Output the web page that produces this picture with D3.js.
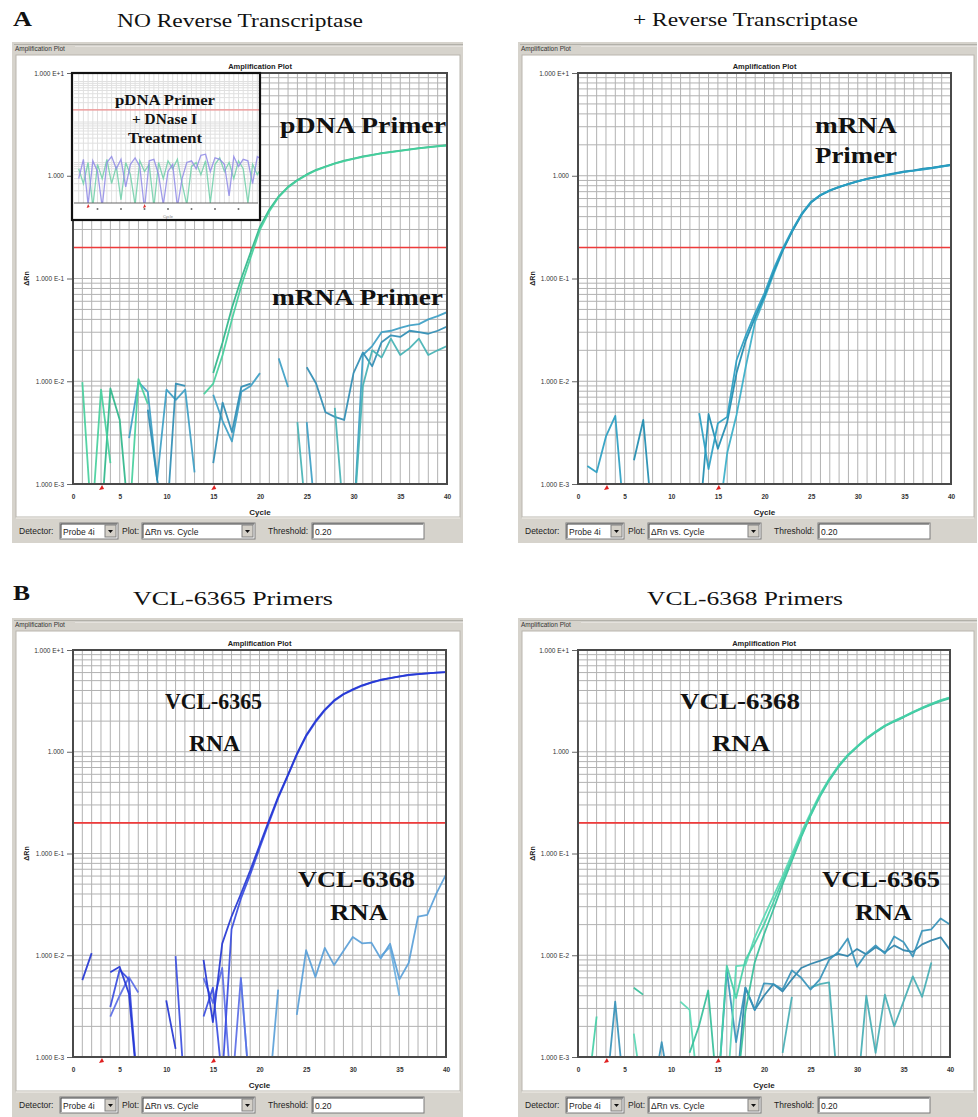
<!DOCTYPE html>
<html>
<head>
<meta charset="utf-8">
<script src="https://cdn.jsdelivr.net/npm/d3@7"></script>
<style>
  body { margin: 0; background: #fff; }
  svg text { font-family: Arial, "Liberation Sans", sans-serif; }
  svg text.serif { font-family: "Liberation Serif", "Times New Roman", serif; }
</style>
</head>
<body>
<svg id="fig" width="978" height="1117"></svg>
<script>
// cycle numbers used by every run
const CYCLES = d3.range(1, 41);
const X_TICKS = [0, 5, 10, 15, 20, 25, 30, 35, 40];
const Y_TICKS = [10, 1, 0.1, 0.01, 0.001];
const Y_TICK_LABELS = ["1.000 E+1", "1.000", "1.000 E-1", "1.000 E-2", "1.000 E-3"];
const THRESHOLD = 0.20;
const BASELINE_MARKS = [3, 15];

// ---- A, NO Reverse Transcriptase (delta Rn per cycle, null = not plotted) ----
const pdnaNoRT1 = [
  0.0098, 0.0004, 0.0083, 0.0016, null, 0.0004, 0.0105, 0.0060, null, null,
  null, null, null, 0.0075, 0.0095, 0.018, 0.040, 0.085, 0.160, 0.300,
  0.450, 0.620, 0.770, 0.900, 1.02, 1.13, 1.22, 1.31, 1.39, 1.46,
  1.53, 1.59, 1.65, 1.70, 1.75, 1.80, 1.85, 1.89, 1.93, 1.97
];
const pdnaNoRT2 = [
  null, null, 0.0004, 0.0085, 0.0042, 0.0004, null, null, null, null,
  null, null, null, null, 0.0120, 0.024, 0.052, 0.100, 0.180, 0.320,
  0.470, 0.630, 0.780, 0.910, 1.03, 1.14, 1.23, 1.32, 1.40, 1.47,
  1.54, 1.60, 1.66, 1.71, 1.76, 1.81, 1.86, 1.90, 1.94, 1.98
];
const mrnaNoRT1 = [
  null, null, null, null, null, 0.0028, 0.0098, 0.0079, 0.0011, 0.0083,
  0.0066, 0.0083, 0.0013, null, 0.0074, 0.0041, 0.0026, 0.0079, 0.0090, 0.0120,
  null, 0.0167, 0.0088, null, 0.0040, 0.0004, null, null, null, 0.0004,
  0.0180, 0.0220, 0.0300, 0.0310, 0.0330, 0.0350, 0.0360, 0.0400, 0.0430, 0.0470
];
const mrnaNoRT2 = [
  null, null, null, null, null, null, null, 0.0053, 0.0011, 0.0004,
  0.0095, 0.0090, null, null, 0.0016, 0.0062, 0.0032, 0.0088, 0.0095, null,
  null, null, null, null, 0.0137, 0.0095, 0.0050, 0.0045, 0.0042, 0.0120,
  0.0190, 0.0140, 0.0240, 0.0280, 0.0270, 0.0310, 0.0300, 0.0290, 0.0310, 0.0340
];
const mrnaNoRT3 = [
  null, null, null, null, null, null, null, null, null, null,
  null, null, null, null, null, null, null, null, null, null,
  null, null, null, 0.0040, 0.0004, null, null, 0.0055, 0.0004, 0.0004,
  0.0090, 0.0200, 0.0170, 0.0260, 0.0180, 0.0210, 0.0260, 0.0180, 0.0200, 0.0220
];
// inset: pDNA primer + DNase I treatment
const insetViolet = [
  0.0040, 0.0120, 0.0009, 0.0110, 0.0060, 0.0008, 0.0100, 0.0140, 0.0070, 0.0120,
  0.0025, 0.0090, 0.0130, 0.0080, 0.0007, 0.0110, 0.0120, 0.0050, 0.0009, 0.0060,
  0.0090, 0.0008, 0.0040, 0.0100, 0.0110, 0.0070, 0.0150, 0.0160, 0.0060, 0.0130,
  0.0120, 0.0090, 0.0015, 0.0140, 0.0080, 0.0120, 0.0110, 0.0030, 0.0140, 0.0120
];
const insetGreen = [
  0.0070, 0.0030, 0.0100, 0.0008, 0.0090, 0.0040, 0.0120, 0.0030, 0.0080, 0.0012,
  0.0100, 0.0050, 0.0009, 0.0110, 0.0060, 0.0090, 0.0008, 0.0100, 0.0040, 0.0110,
  0.0070, 0.0120, 0.0030, 0.0009, 0.0080, 0.0100, 0.0050, 0.0110, 0.0010, 0.0090,
  0.0130, 0.0060, 0.0100, 0.0040, 0.0110, 0.0070, 0.0010, 0.0090, 0.0050, 0.0080
];

// ---- A, + Reverse Transcriptase ----
const mrnaRT1 = [
  0.0015, 0.0013, 0.0029, 0.0046, 0.0004, null, null, null, null, null,
  null, null, 0.0049, 0.0014, 0.0039, 0.0045, 0.0160, 0.0280, 0.0460, 0.0720,
  0.125, 0.200, 0.300, 0.430, 0.560, 0.650, 0.720, 0.780, 0.830, 0.880,
  0.930, 0.970, 1.01, 1.05, 1.09, 1.12, 1.15, 1.19, 1.23, 1.27
];
const mrnaRT2 = [
  null, null, null, null, null, 0.0017, 0.0042, 0.0004, null, null,
  null, null, 0.0004, 0.0048, 0.0022, 0.0040, 0.0120, 0.0250, 0.0420, 0.0680,
  0.118, 0.192, 0.290, 0.420, 0.550, 0.645, 0.715, 0.775, 0.835, 0.885,
  0.930, 0.975, 1.02, 1.06, 1.10, 1.13, 1.17, 1.20, 1.24, 1.28
];
const mrnaRT3 = [
  null, null, null, null, null, null, null, null, null, null,
  null, null, null, null, 0.0004, 0.0020, 0.0047, 0.0140, 0.0380, 0.0640,
  0.112, 0.190, 0.295, 0.425, 0.555, 0.650, 0.720, 0.780, 0.830, 0.880,
  0.930, 0.970, 1.01, 1.05, 1.09, 1.12, 1.16, 1.19, 1.23, 1.27
];

// ---- B, VCL-6365 Primers ----
const rna6365Blue1 = [
  0.0057, 0.0105, null, 0.0068, 0.0077, 0.0042, 0.0004, null, null, 0.0036,
  0.0012, null, null, 0.0090, 0.0022, 0.0130, 0.0240, 0.0400, 0.0680, 0.120,
  0.210, 0.360, 0.580, 0.950, 1.45, 2.00, 2.60, 3.20, 3.70, 4.10,
  4.50, 4.80, 5.10, 5.30, 5.50, 5.70, 5.80, 5.90, 6.00, 6.05
];
const rna6365Blue2 = [
  null, null, null, 0.0031, 0.0072, 0.0058, 0.0004, null, null, null,
  0.0098, 0.0004, null, 0.0025, 0.0048, 0.0006, 0.0180, 0.0360, 0.0620, 0.112,
  0.200, 0.350, 0.570, 0.930, 1.42, 1.95, 2.55, 3.15, 3.65, 4.05,
  4.45, 4.78, 5.07, 5.28, 5.48, 5.68, 5.80, 5.90, 5.98, 6.05
];
const rna6365Blue3 = [
  null, null, null, 0.0025, 0.0040, 0.0061, 0.0043, null, null, null,
  null, null, null, 0.0060, 0.0034, 0.0075, 0.0004, 0.0060, 0.0004, null,
  null, null, null, null, null, null, null, null, null, null,
  null, null, null, null, null, null, null, null, null, null
];
const rna6368Lt1 = [
  null, null, null, null, null, null, null, null, null, null,
  null, null, null, null, null, null, null, null, null, null,
  0.0004, 0.0046, null, 0.0026, 0.0112, 0.0061, 0.0118, 0.0080, 0.0110, 0.0151,
  0.0131, 0.0133, 0.0093, 0.0130, 0.0058, 0.0084, 0.0240, 0.0250, 0.0410, 0.0620
];
const rna6368Lt2 = [
  null, null, null, null, null, null, null, null, null, null,
  null, null, null, null, null, null, null, 0.0060, 0.0004, null,
  null, null, null, null, null, null, null, null, null, null,
  null, null, 0.0098, 0.0120, 0.0040, null, null, null, null, null
];

// ---- B, VCL-6368 Primers ----
const rna6368Grn1 = [
  0.0004, 0.0025, null, null, null, null, null, null, null, null,
  null, null, null, null, 0.0004, 0.0079, 0.0038, 0.0090, 0.0130, 0.0200,
  0.0330, 0.0550, 0.0900, 0.150, 0.240, 0.370, 0.530, 0.720, 0.920, 1.12,
  1.35, 1.57, 1.80, 2.00, 2.20, 2.45, 2.70, 2.95, 3.20, 3.40
];
const rna6368Grn2 = [
  null, null, null, null, null, 0.0048, 0.0041, null, null, null,
  null, 0.0011, 0.0020, 0.0045, 0.0004, null, 0.0004, 0.0028, 0.0085, 0.0160,
  0.0280, 0.0500, 0.0850, 0.145, 0.235, 0.360, 0.520, 0.710, 0.910, 1.11,
  1.33, 1.55, 1.78, 1.98, 2.18, 2.42, 2.66, 2.90, 3.15, 3.35
];
const rna6368Grn3 = [
  null, null, null, null, null, 0.0017, 0.0004, null, null, null,
  0.0035, 0.0029, 0.0004, null, null, 0.0004, 0.0078, 0.0080, 0.0150, 0.0240,
  0.0380, 0.0600, 0.0980, 0.160, 0.250, 0.380, 0.540, 0.730, 0.930, 1.13,
  1.36, 1.58, 1.81, 2.01, 2.22, 2.46, 2.71, 2.96, 3.21, 3.42
];
const rna6365Teal1 = [
  null, null, 0.0004, 0.0035, 0.0004, null, null, 0.0004, 0.0014, 0.0004,
  null, null, null, null, 0.0004, 0.0071, 0.0014, 0.0048, 0.0029, 0.0053,
  0.0052, 0.0046, 0.0071, 0.0060, 0.0046, 0.0058, 0.0090, 0.0108, 0.0146, 0.0077,
  0.0104, 0.0125, 0.0104, 0.0153, 0.0135, 0.0097, 0.0174, 0.0180, 0.0230, 0.0200
];
const rna6365Teal2 = [
  null, null, null, null, null, null, null, null, null, null,
  null, null, null, null, null, null, 0.0004, 0.0048, 0.0029, 0.0040,
  0.0052, 0.0044, 0.0058, 0.0075, 0.0082, 0.0088, 0.0095, 0.0103, 0.0098, 0.0115,
  0.0102, 0.0120, 0.0107, 0.0125, 0.0112, 0.0108, 0.0128, 0.0140, 0.0150, 0.0113
];
const rna6365Teal3 = [
  null, null, null, null, null, null, null, null, null, null,
  null, null, null, null, null, null, null, null, null, null,
  null, 0.0011, 0.0039, null, 0.0048, 0.0052, 0.0054, 0.0004, null, 0.0004,
  0.0040, 0.0011, 0.0041, 0.0020, 0.0035, 0.0062, 0.0039, 0.0085, null, null
];

// panel layout, built from the arrays above
const PANELS = [
  {
    win: {x: 12, y: 42, w: 451, h: 501}, plot: {x0: 73, x1: 447, y0: 73, y1: 484},
    series: [
      {v: mrnaNoRT1, c: "#3c9ec4"}, {v: mrnaNoRT2, c: "#2f8db4"}, {v: mrnaNoRT3, c: "#45b2b4"},
      {v: pdnaNoRT2, c: "#2fb68a"}, {v: pdnaNoRT1, c: "#45cf9c"}
    ],
    labels: [
      {t: "pDNA Primer", x1: 280, x2: 446, b: 133, s: 23},
      {t: "mRNA Primer", x1: 272, x2: 443, b: 305, s: 23}
    ],
    inset: true
  },
  {
    win: {x: 518, y: 42, w: 459, h: 501}, plot: {x0: 578, x1: 951, y0: 73, y1: 484},
    series: [
      {v: mrnaRT3, c: "#38aec8"}, {v: mrnaRT2, c: "#1f8cb0"}, {v: mrnaRT1, c: "#2a9ec2"}
    ],
    labels: [
      {t: "mRNA", x1: 815, x2: 897, b: 133, s: 23},
      {t: "Primer", x1: 815, x2: 897, b: 163, s: 23}
    ]
  },
  {
    win: {x: 12, y: 618, w: 451, h: 499}, plot: {x0: 73, x1: 446, y0: 650, y1: 1057},
    series: [
      {v: rna6368Lt2, c: "#6cb0e0"}, {v: rna6368Lt1, c: "#5a9fd8"},
      {v: rna6365Blue3, c: "#5a6ce6"}, {v: rna6365Blue2, c: "#3a4de0"}, {v: rna6365Blue1, c: "#2436d4"}
    ],
    labels: [
      {t: "VCL-6365", x1: 165, x2: 262, b: 709, s: 23},
      {t: "RNA", x1: 189, x2: 240, b: 751, s: 23},
      {t: "VCL-6368", x1: 298, x2: 415, b: 887, s: 23},
      {t: "RNA", x1: 330, x2: 388, b: 920, s: 23}
    ]
  },
  {
    win: {x: 518, y: 618, w: 459, h: 499}, plot: {x0: 578, x1: 950, y0: 650, y1: 1057},
    series: [
      {v: rna6365Teal3, c: "#45aeb4"}, {v: rna6365Teal2, c: "#2b82aa"}, {v: rna6365Teal1, c: "#3692ba"},
      {v: rna6368Grn3, c: "#5ad8b4"}, {v: rna6368Grn2, c: "#36bf9a"}, {v: rna6368Grn1, c: "#44cfa6"}
    ],
    labels: [
      {t: "VCL-6368", x1: 680, x2: 800, b: 709, s: 23},
      {t: "RNA", x1: 712, x2: 770, b: 751, s: 23},
      {t: "VCL-6365", x1: 822, x2: 940, b: 887, s: 23},
      {t: "RNA", x1: 855, x2: 912, b: 920, s: 23}
    ]
  }
];

const HEADINGS = [
  {t: "A", x1: 13, x2: 32, b: 26, s: 20, bold: true},
  {t: "NO Reverse Transcriptase", x1: 117, x2: 363, b: 27, s: 18},
  {t: "+ Reverse Transcriptase", x1: 633, x2: 858, b: 26, s: 18},
  {t: "B", x1: 13, x2: 30, b: 600, s: 20, bold: true},
  {t: "VCL-6365 Primers", x1: 133, x2: 333, b: 605, s: 18},
  {t: "VCL-6368 Primers", x1: 647, x2: 843, b: 605, s: 18}
];

const svg = d3.select("#fig");

function serifText(g, d, weight) {
  g.append("text").attr("class", "serif")
    .attr("x", d.x1).attr("y", d.b)
    .attr("textLength", d.x2 - d.x1).attr("lengthAdjust", "spacingAndGlyphs")
    .attr("font-size", d.s).attr("font-weight", weight).attr("fill", "#111")
    .text(d.t);
}

HEADINGS.forEach(h => serifText(svg, h, h.bold ? "bold" : "normal"));

// log grid values: 1..9 in every decade
const GRID_VALUES = [];
[0.001, 0.01, 0.1, 1].forEach(dec => { for (let k = 1; k <= 9; k++) GRID_VALUES.push(dec * k); });

function drawGrid(g, x, y, color) {
  g.selectAll(null).data(CYCLES.slice(0, 39)).enter().append("line")
    .attr("x1", d => x(d)).attr("x2", d => x(d))
    .attr("y1", y.range()[1]).attr("y2", y.range()[0])
    .attr("stroke", color).attr("stroke-width", 1);
  g.selectAll(null).data(GRID_VALUES.slice(1)).enter().append("line")
    .attr("x1", x.range()[0]).attr("x2", x.range()[1])
    .attr("y1", d => y(d)).attr("y2", d => y(d))
    .attr("stroke", color).attr("stroke-width", 1);
}

function combo(g, x, y, w, label, arrow) {
  g.append("rect").attr("x", x).attr("y", y).attr("width", w).attr("height", 16)
    .attr("fill", "#fff").attr("stroke", "#7a7a7a");
  g.append("path").attr("d", `M${x + 1},${y + 15} V${y + 1} H${x + w - 1}`)
    .attr("fill", "none").attr("stroke", "#404040");
  g.append("text").attr("x", x + 3).attr("y", y + 12).attr("font-size", 8.5).attr("fill", "#222").text(label);
  if (arrow) {
    const ax = x + w - 13;
    g.append("rect").attr("x", ax).attr("y", y + 2).attr("width", 11).attr("height", 12)
      .attr("fill", "#d4d0c8").attr("stroke", "#808080");
    g.append("path").attr("d", `M${ax + 3},${y + 7} h5 l-2.5,3 z`).attr("fill", "#111");
  }
}

function drawPanel(p, idx) {
  const g = svg.append("g");
  const W = p.win, P = p.plot;
  const bottom = W.y + W.h;

  // window chrome
  g.append("rect").attr("x", W.x).attr("y", W.y).attr("width", W.w).attr("height", W.h).attr("fill", "#d6d3cc");
  g.append("line").attr("x1", W.x + 2).attr("x2", W.x + W.w).attr("y1", W.y + 3).attr("y2", W.y + 3).attr("stroke", "#8e8c86");
  g.append("line").attr("x1", W.x + 2).attr("x2", W.x + W.w).attr("y1", W.y + 4).attr("y2", W.y + 4).attr("stroke", "#f4f2ee");
  g.append("rect").attr("x", W.x + 1).attr("y", W.y + 3).attr("width", 62).attr("height", 8).attr("fill", "#d6d3cc");
  g.append("text").attr("x", W.x + 3).attr("y", W.y + 9).attr("font-size", 6.5).attr("fill", "#333").text("Amplification Plot");
  g.append("rect").attr("x", W.x + 4).attr("y", W.y + 13).attr("width", W.w - 7).attr("height", W.h - 13 - 26)
    .attr("fill", "#fff").attr("stroke", "#b9b6ae");

  const x = d3.scaleLinear().domain([0, 40]).range([P.x0, P.x1]);
  const y = d3.scaleLog().domain([0.001, 10]).range([P.y1, P.y0]);

  drawGrid(g, x, y, "#b2b2b2");

  // threshold
  g.append("line").attr("x1", P.x0).attr("x2", P.x1).attr("y1", y(THRESHOLD)).attr("y2", y(THRESHOLD))
    .attr("stroke", "#ee3b3b").attr("stroke-width", 1.6);

  // curves
  const clipId = "clip" + idx;
  g.append("clipPath").attr("id", clipId).append("rect")
    .attr("x", P.x0).attr("y", P.y0).attr("width", P.x1 - P.x0).attr("height", P.y1 - P.y0);
  const line = d3.line().defined(d => d.v != null)
    .x(d => x(d.c)).y(d => y(d.v));
  const curves = g.append("g").attr("clip-path", `url(#${clipId})`);
  p.series.forEach(s => {
    curves.append("path").datum(CYCLES.map((c, i) => ({c: c, v: s.v[i]})))
      .attr("d", line).attr("fill", "none").attr("stroke", s.c)
      .attr("stroke-width", 1.8).attr("stroke-linejoin", "round").attr("opacity", 0.92);
  });

  // frame
  g.append("rect").attr("x", P.x0).attr("y", P.y0).attr("width", P.x1 - P.x0).attr("height", P.y1 - P.y0)
    .attr("fill", "none").attr("stroke", "#4a4a4a").attr("stroke-width", 2);

  // axes
  const ya = g.append("g").attr("transform", `translate(${P.x0 - 1},0)`)
    .call(d3.axisLeft(y).tickValues(Y_TICKS).tickFormat((d, i) => Y_TICK_LABELS[i]).tickSize(5).tickPadding(3));
  ya.select(".domain").remove();
  ya.selectAll("line").attr("stroke", "#666");
  ya.selectAll("text").attr("font-size", 6.5).attr("fill", "#333").attr("font-family", "Arial, sans-serif");

  const xa = g.append("g").attr("transform", `translate(0,${P.y1})`)
    .call(d3.axisBottom(x).tickValues(X_TICKS).tickSize(0).tickPadding(10));
  xa.select(".domain").remove();
  xa.selectAll("text").attr("font-size", 6.5).attr("font-weight", "bold").attr("fill", "#333").attr("font-family", "Arial, sans-serif");

  g.append("text").attr("x", (P.x0 + P.x1) / 2).attr("y", P.y1 + 31).attr("text-anchor", "middle")
    .attr("font-size", 8).attr("font-weight", "bold").attr("fill", "#222").text("Cycle");
  g.append("text").attr("x", (P.x0 + P.x1) / 2).attr("y", P.y0 - 4).attr("text-anchor", "middle")
    .attr("font-size", 7.5).attr("font-weight", "bold").attr("fill", "#222").text("Amplification Plot");
  g.append("text").attr("transform", `translate(${W.x + 17},${y(0.1)}) rotate(-90)`).attr("text-anchor", "middle")
    .attr("font-size", 7).attr("font-weight", "bold").attr("fill", "#222").text("ΔRn");

  // baseline start / end marks
  g.selectAll(null).data(BASELINE_MARKS).enter().append("path")
    .attr("d", d => `M${x(d) - 2},${P.y1 + 6} L${x(d) + 1},${P.y1 + 1} L${x(d) + 3},${P.y1 + 5} Z`)
    .attr("fill", "#e02020");

  // controls strip
  const cy = bottom - 20;
  g.append("line").attr("x1", W.x + 4).attr("x2", W.x + W.w - 3).attr("y1", bottom - 25).attr("y2", bottom - 25).attr("stroke", "#f2f0ea");
  g.append("text").attr("x", W.x + 7).attr("y", cy + 11).attr("font-size", 8.5).attr("fill", "#222").text("Detector:");
  combo(g, W.x + 48, cy, 58, "Probe 4i", true);
  g.append("text").attr("x", W.x + 110).attr("y", cy + 11).attr("font-size", 8.5).attr("fill", "#222").text("Plot:");
  combo(g, W.x + 130, cy, 113, "ΔRn vs. Cycle", true);
  g.append("text").attr("x", W.x + 256).attr("y", cy + 11).attr("font-size", 8.5).attr("fill", "#222").text("Threshold:");
  combo(g, W.x + 300, cy, 112, "0.20", false);

  if (p.inset) drawInset(g);

  p.labels.forEach(l => serifText(g, l, "bold"));
}

function drawInset(g) {
  const box = {x0: 72, x1: 260, y0: 73, y1: 220};
  const x = d3.scaleLinear().domain([0, 40]).range([74, 262]);
  const y = d3.scaleLog().domain([0.001, 10]).range([203, 41]);
  const ig = g.append("g");
  ig.append("rect").attr("x", box.x0).attr("y", box.y0).attr("width", box.x1 - box.x0).attr("height", box.y1 - box.y0).attr("fill", "#fff");
  ig.append("clipPath").attr("id", "insetClip").append("rect")
    .attr("x", box.x0).attr("y", box.y0).attr("width", box.x1 - box.x0).attr("height", 203 - box.y0);
  const inner = ig.append("g").attr("clip-path", "url(#insetClip)");
  drawGrid(inner, x, y, "#e0e0e0");
  inner.append("line").attr("x1", box.x0).attr("x2", box.x1).attr("y1", y(THRESHOLD)).attr("y2", y(THRESHOLD))
    .attr("stroke", "#f09090").attr("stroke-width", 1.3);
  const line = d3.line().defined(d => d.v != null).x(d => x(d.c)).y(d => y(d.v));
  [{v: insetGreen, c: "#6fcfa8"}, {v: insetViolet, c: "#8f8ae6"}].forEach(s => {
    inner.append("path").datum(CYCLES.map((c, i) => ({c: c, v: s.v[i]})))
      .attr("d", line).attr("fill", "none").attr("stroke", s.c).attr("stroke-width", 1.3).attr("opacity", 0.85);
  });
  ig.append("line").attr("x1", 74).attr("x2", 258).attr("y1", 203).attr("y2", 203).attr("stroke", "#666").attr("stroke-width", 1.2);
  ig.selectAll(null).data(X_TICKS.slice(1, 8)).enter().append("rect")
    .attr("x", d => x(d) - 0.8).attr("y", 208).attr("width", 1.6).attr("height", 2).attr("fill", "#777");
  ig.selectAll(null).data(BASELINE_MARKS).enter().append("path")
    .attr("d", d => `M${x(d) - 1.5},${208} L${x(d)},${204} L${x(d) + 1.5},${207} Z`).attr("fill", "#e03030");
  ig.append("text").attr("x", 168).attr("y", 218).attr("text-anchor", "middle").attr("font-size", 4).attr("fill", "#777").text("Cycle");
  ig.append("rect").attr("x", box.x0).attr("y", box.y0).attr("width", box.x1 - box.x0).attr("height", box.y1 - box.y0)
    .attr("fill", "none").attr("stroke", "#111").attr("stroke-width", 2.2);
  [
    {t: "pDNA Primer", x1: 115, x2: 215, b: 105, s: 15},
    {t: "+ DNase I", x1: 132, x2: 197, b: 124, s: 15},
    {t: "Treatment", x1: 128, x2: 202, b: 143, s: 15}
  ].forEach(l => serifText(ig, l, "bold"));
}

PANELS.forEach(drawPanel);
</script>
</body>
</html>
